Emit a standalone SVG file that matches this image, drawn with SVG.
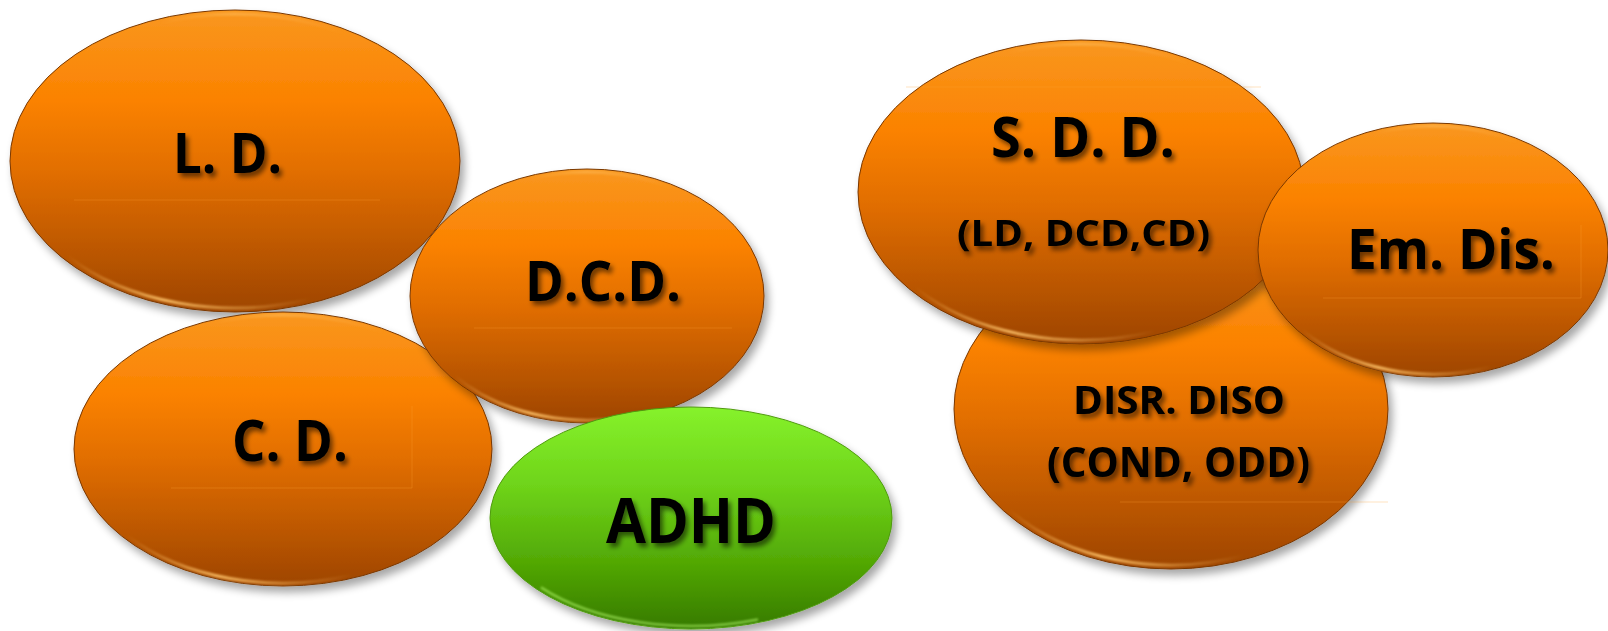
<svg xmlns="http://www.w3.org/2000/svg" width="1608" height="631" viewBox="0 0 1608 631">
<defs>
<linearGradient id="gO" x1="0" y1="0" x2="0" y2="1">
<stop offset="0" stop-color="#f9971f"/>
<stop offset="0.3" stop-color="#fb8200"/>
<stop offset="0.55" stop-color="#e06d00"/>
<stop offset="1" stop-color="#9e4500"/>
</linearGradient>
<linearGradient id="gG" x1="0" y1="0" x2="0" y2="1">
<stop offset="0" stop-color="#86f22b"/>
<stop offset="0.35" stop-color="#6fd41a"/>
<stop offset="0.7" stop-color="#52a805"/>
<stop offset="1" stop-color="#367a00"/>
</linearGradient>
<linearGradient id="rimO" x1="0" y1="0" x2="1" y2="0">
<stop offset="0" stop-color="#ffc060" stop-opacity="0"/>
<stop offset="0.4" stop-color="#ffc36a" stop-opacity="0.9"/>
<stop offset="1" stop-color="#ffc060" stop-opacity="0"/>
</linearGradient>
<filter id="sh" x="-10%" y="-10%" width="125%" height="130%">
<feGaussianBlur in="SourceAlpha" stdDeviation="4"/>
<feOffset dx="4" dy="6" result="b"/>
<feComponentTransfer><feFuncA type="linear" slope="0.35"/></feComponentTransfer>
<feMerge><feMergeNode/><feMergeNode in="SourceGraphic"/></feMerge>
</filter>
<filter id="tsh" x="-10%" y="-20%" width="130%" height="160%">
<feGaussianBlur in="SourceAlpha" stdDeviation="2.5"/>
<feOffset dx="3" dy="4" result="b"/>
<feComponentTransfer><feFuncA type="linear" slope="0.55"/></feComponentTransfer>
<feMerge><feMergeNode/><feMergeNode in="SourceGraphic"/></feMerge>
</filter>
<filter id="soft"><feGaussianBlur stdDeviation="1.2"/></filter>
</defs>
<style>
.o{fill:url(#gO);stroke:#7a3800;stroke-width:1;filter:url(#sh)}
.g{fill:url(#gG);stroke:#4f9a10;stroke-width:1;filter:url(#sh)}
.rim{fill:none;stroke:url(#rimO);stroke-width:3;filter:url(#soft)}
.rimt{fill:none;stroke:url(#rimO);stroke-width:3;opacity:0.55;filter:url(#soft)}
.rimg{fill:none;stroke:#b8ff70;stroke-width:2.5;opacity:0.55;filter:url(#soft)}
.t{font-family:"Open Sans","Liberation Sans",sans-serif;font-weight:700;fill:#000;filter:url(#tsh)}
.ln{stroke:#ffa030;stroke-width:1;opacity:0.3;fill:none}
</style>
<rect width="1608" height="631" fill="#fff"/>

<g id="node-ld">
<ellipse class="o" cx="235" cy="161" rx="225" ry="151"/>
<path class="rim" d="M 67 255.5 A 219 147 0 0 0 310 299"/>
<path class="rimt" d="M 160 22.8 A 219 147 0 0 1 344.5 33.7"/>
<line class="ln" x1="74" y1="200" x2="380" y2="200"/>
<text class="t" x="173" y="173" font-size="56" textLength="109" lengthAdjust="spacingAndGlyphs">L. D.</text>
</g>

<g id="node-cd">
<ellipse class="o" cx="283" cy="449" rx="209" ry="137"/>
<path class="rim" d="M 126.7 535.1 A 204 134 0 0 0 352.8 574.9"/>
<path class="rimt" d="M 213.2 323 A 204 134 0 0 1 385 333"/>
<path class="ln" d="M 171 488 L 412 488 L 412 406"/>
<text class="t" x="232" y="461" font-size="57" textLength="116" lengthAdjust="spacingAndGlyphs">C. D.</text>
</g>

<g id="node-dcd">
<ellipse class="o" cx="587" cy="296" rx="177" ry="127"/>
<path class="rim" d="M 454.5 375.7 A 173 124 0 0 0 646.2 412.6"/>
<path class="rimt" d="M 527.8 179.5 A 173 124 0 0 1 673.5 188.6"/>
<line class="ln" x1="474" y1="328" x2="732" y2="328"/>
<text class="t" x="525" y="301" font-size="55" textLength="156" lengthAdjust="spacingAndGlyphs">D.C.D.</text>
</g>

<g id="node-adhd">
<ellipse class="g" cx="691" cy="518" rx="201" ry="111"/>
<path class="rimg" d="M 540.9 587.4 A 196 108 0 0 0 758 619.5"/>
<text class="t" x="606" y="543" font-size="62" textLength="170" lengthAdjust="spacingAndGlyphs">ADHD</text>
</g>

<g id="node-disr">
<ellipse class="o" cx="1171" cy="409" rx="217" ry="160"/>
<path class="rim" d="M 1008.6 509.3 A 212 156 0 0 0 1243.5 555.6"/>
<line class="ln" x1="1120" y1="502" x2="1388" y2="502"/>
<text class="t" x="1073" y="414" font-size="39" textLength="212" lengthAdjust="spacingAndGlyphs">DISR. DISO</text>
<text class="t" x="1047" y="477" font-size="42" textLength="263" lengthAdjust="spacingAndGlyphs">(COND, ODD)</text>
</g>

<g id="node-sdd">
<ellipse class="o" cx="1081" cy="192" rx="223" ry="152"/>
<path class="rim" d="M 914.8 287.2 A 217 148 0 0 0 1155.2 331.1"/>
<path class="rimt" d="M 1006.8 52.9 A 217 148 0 0 1 1189.5 63.8"/>
<line class="ln" x1="906" y1="87" x2="1261" y2="87"/>
<text class="t" x="991" y="157" font-size="56" textLength="184" lengthAdjust="spacingAndGlyphs">S. D. D.</text>
<text class="t" x="957" y="246" font-size="36" textLength="253" lengthAdjust="spacingAndGlyphs">(LD, DCD,CD)</text>
</g>

<g id="node-emdis">
<ellipse class="o" cx="1433" cy="250" rx="175" ry="127"/>
<path class="rim" d="M 1302 329.7 A 171 124 0 0 0 1491.5 366.6"/>
<path class="rimt" d="M 1374.5 133.4 A 171 124 0 0 1 1518.5 142.6"/>
<path class="ln" d="M 1323 298 L 1581 298 L 1581 225"/>
<text class="t" x="1347" y="269" font-size="56" textLength="208" lengthAdjust="spacingAndGlyphs">Em. Dis.</text>
</g>

<g id="connectors"></g>
</svg>
